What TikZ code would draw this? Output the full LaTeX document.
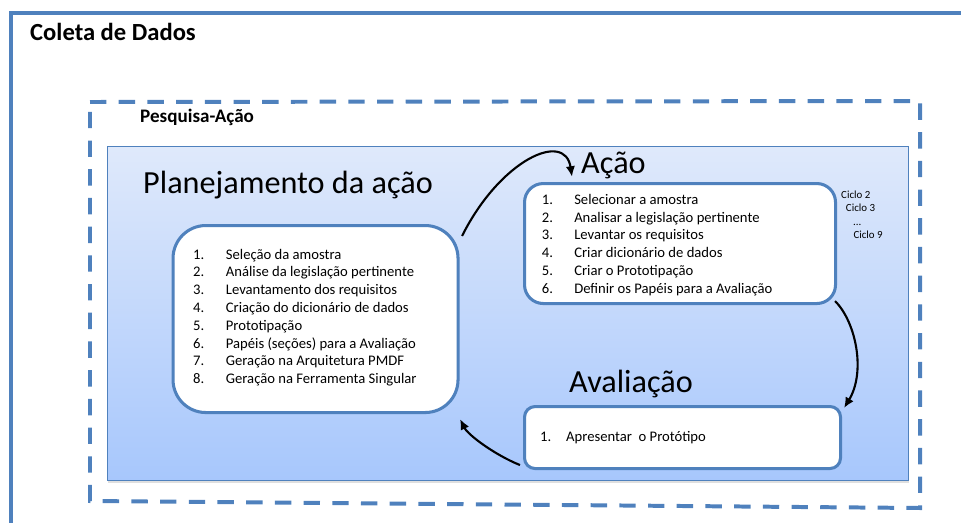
\documentclass[tikz,border=0pt]{standalone}
\usepackage{fontspec}
\setmainfont{Carlito}
\usepackage{xcolor}
\usepackage{tikz}
\usetikzlibrary{arrows.meta,shadows}
\definecolor{frameblue}{RGB}{79,129,189}
\definecolor{paneltop}{RGB}{223,233,251}
\definecolor{panelbot}{RGB}{167,199,252}
\newlength{\pxl}
\setlength{\pxl}{0.03cm}
\tikzset{
	stagebox/.style={draw=frameblue,line width=2.6pt,fill=white,anchor=north west,inner sep=0pt},
	stagetitle/.style={anchor=base west,inner sep=0pt,font=\fontsize{27.5}{33}\selectfont},
	itemlist/.style={anchor=base west,inner sep=0pt,font=\fontsize{12.5}{15.2}\selectfont},
	cyclenote/.style={anchor=base west,inner sep=0pt,font=\fontsize{9.3}{11}\selectfont},
	flow/.style={line width=1.8pt,-{Latex[length=9pt,width=8pt]}}
}

\begin{document}
\begin{tikzpicture}[x=\pxl,y=-\pxl]
	 \useasboundingbox (0,0) rectangle (961,523);
	 \draw[frameblue,line width=3.4pt] (961,13) -- (11,13) -- (11,523);
	 \node[anchor=base west,inner sep=0pt,font=\bfseries\fontsize{21}{25}\selectfont] (coleta) at (30,40) {Coleta de Dados};
	 \draw[frameblue,line width=3.4pt,dash pattern=on 14pt off 10.5pt] (90,102) -- (920,101) -- (920,508) -- (90,501) -- cycle;
	 \node[anchor=base west,inner sep=0pt,font=\bfseries\fontsize{16.3}{19}\selectfont] (pesquisa) at (140,122.7) {Pesquisa-Ação};
	 \node[draw=frameblue,line width=1pt,top color=paneltop,bottom color=panelbot,anchor=north west,inner sep=0pt,
	       minimum width=801\pxl,minimum height=334\pxl,
	       drop shadow={opacity=0.25,shadow xshift=0pt,shadow yshift=-2pt}] (panel) at (107,146) {};
	 \node[stagetitle] (tplan) at (143,193) {Planejamento da ação};
	 \node[stagetitle] (tacao) at (581,173.3) {Ação};
	 \node[stagetitle] (taval) at (569,392.7) {Avaliação};
	 \node[stagebox,rounded corners=28pt,minimum width=285\pxl,minimum height=187\pxl] (plan) at (171.5,224) {};
	 \node[stagebox,rounded corners=16pt,minimum width=311\pxl,minimum height=120\pxl] (acao) at (523,182) {};
	 \node[stagebox,rounded corners=9pt,minimum width=316\pxl,minimum height=62\pxl] (aval) at (523,405) {};
	 \node[itemlist] (lplan) at (193,259) {\begin{tabular}[t]{@{}p{0.98cm}@{}l@{}}
	 	1. & Seleção da amostra\\
	 	2. & Análise da legislação pertinente\\
	 	3. & Levantamento dos requisitos\\
	 	4. & Criação do dicionário de dados\\
	 	5. & Prototipação\\
	 	6. & Papéis (seções) para a Avaliação\\
	 	7. & Geração na Arquitetura PMDF\\
	 	8. & Geração na Ferramenta Singular
	 \end{tabular}};
	 \node[itemlist] (lacao) at (541.7,204.3) {\begin{tabular}[t]{@{}p{0.97cm}@{}l@{}}
	 	1. & Selecionar a amostra\\
	 	2. & Analisar a legislação pertinente\\
	 	3. & Levantar os requisitos\\
	 	4. & Criar dicionário de dados\\
	 	5. & Criar o Prototipação\\
	 	6. & Definir os Papéis para a Avaliação
	 \end{tabular}};
	 \node[itemlist] (laval) at (540,441) {\begin{tabular}[t]{@{}p{0.78cm}@{}l@{}}
	 	1. & Apresentar\ \ o Protótipo
	 \end{tabular}};
	 \node[cyclenote] (c2) at (841,198.3) {Ciclo 2};
	 \node[cyclenote] (c3) at (845.7,211.7) {Ciclo 3};
	 \node[cyclenote] (cdots) at (853,225) {...};
	 \node[cyclenote] (c9) at (853.3,238.3) {Ciclo 9};
	 \draw[flow] ([shift={(2.5,12)}]plan.north east) .. controls (500,160) and (565,130) .. ([shift={(-9,3.5)}]tacao.base west);
	 \draw[flow] ([shift={(-2,-4)}]acao.south east) .. controls (856,322) and (866,372) .. ([shift={(2,3)}]aval.north east);
	 \draw[flow] ([shift={(-3,-5)}]aval.south west) .. controls (495,455) and (468,435) .. ([shift={(0.5,5)}]plan.south east);
\end{tikzpicture}
\end{document}
